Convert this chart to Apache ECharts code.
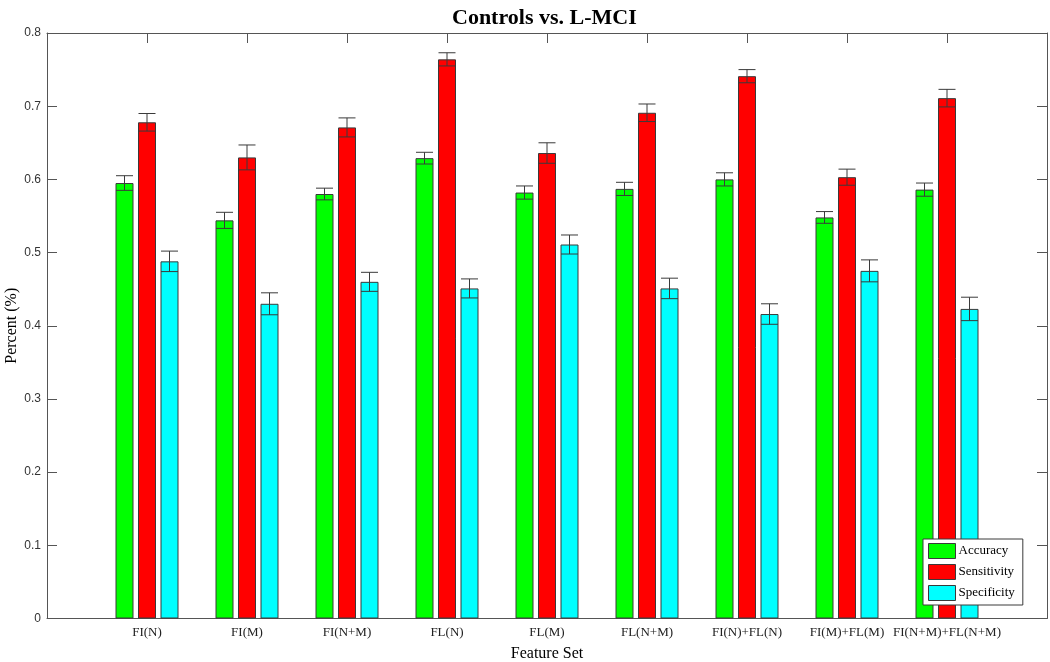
<!DOCTYPE html>
<html>
<head>
<meta charset="utf-8">
<script src="https://cdn.jsdelivr.net/npm/echarts@6/dist/echarts.min.js"></script>
<style>
  html, body { margin: 0; padding: 0; background: #fff; }
  #chart { width: 1050px; height: 662px; }
</style>
</head>
<body>
<div id="chart"></div>
<script>
const categories = ["FI(N)", "FI(M)", "FI(N+M)", "FL(N)", "FL(M)", "FL(N+M)", "FI(N)+FL(N)", "FI(M)+FL(M)", "FI(N+M)+FL(N+M)"];
const accuracy = [0.595, 0.544, 0.580, 0.629, 0.582, 0.587, 0.600, 0.548, 0.586];
const accuracyErr = [0.010, 0.011, 0.008, 0.008, 0.009, 0.009, 0.009, 0.008, 0.009];
const sensitivity = [0.678, 0.630, 0.671, 0.764, 0.636, 0.691, 0.741, 0.603, 0.711];
const sensitivityErr = [0.012, 0.017, 0.013, 0.009, 0.014, 0.012, 0.009, 0.011, 0.012];
const specificity = [0.488, 0.430, 0.460, 0.451, 0.511, 0.451, 0.416, 0.475, 0.423];
const specificityErr = [0.014, 0.015, 0.013, 0.013, 0.013, 0.014, 0.014, 0.015, 0.016];

const BAR_W = 18;
const BAR_GAP = 4.5;
const EDGE = "#3a3a3a";
const AXIS = "#555";
const SERIF = "'Liberation Serif', 'Times New Roman', serif";
const SANS = "'Liberation Sans', Arial, sans-serif";

// pad with empty slots so categories sit at 1..9 on a 0..10 axis, like matlab's bar()
const axisCats = ["", ...categories, ""];
const pad = arr => ["-", ...arr, "-"];

function barSeries(name, values, color) {
  return {
    name: name,
    type: "bar",
    data: pad(values),
    barWidth: BAR_W,
    barGap: (BAR_GAP / BAR_W * 100) + "%",
    itemStyle: { color: color, borderColor: EDGE, borderWidth: 1 },
    z: 2
  };
}

function errorSeries(values, errs, offset) {
  return {
    type: "custom",
    z: 5,
    encode: { x: 0, y: 1 },
    data: values.map((v, i) => [i + 1, v, errs[i]]),
    renderItem: (params, api) => {
      const x = api.coord([api.value(0), 0])[0] + offset;
      const hi = api.coord([api.value(0), api.value(1) + api.value(2)])[1];
      const lo = api.coord([api.value(0), api.value(1) - api.value(2)])[1];
      const hw = BAR_W / 2 - 0.5;
      const style = { stroke: EDGE, lineWidth: 1 };
      return {
        type: "group",
        children: [
          { type: "line", shape: { x1: x, y1: hi, x2: x, y2: lo }, style: style },
          { type: "line", shape: { x1: x - hw, y1: hi, x2: x + hw, y2: hi }, style: style },
          { type: "line", shape: { x1: x - hw, y1: lo, x2: x + hw, y2: lo }, style: style }
        ]
      };
    }
  };
}

const step = BAR_W + BAR_GAP;
const chart = echarts.init(document.getElementById("chart"));

chart.setOption({
  animation: false,
  backgroundColor: "#fff",
  title: {
    text: "Controls vs. L-MCI",
    left: 447,
    top: 2,
    textStyle: { fontFamily: SERIF, fontSize: 22, fontWeight: "bold", color: "#000" }
  },
  legend: {
    data: ["Accuracy", "Sensitivity", "Specificity"],
    orient: "vertical",
    left: 923,
    top: 539,
    padding: [4, 8, 4, 5],
    itemWidth: 27,
    itemHeight: 15,
    itemGap: 5,
    icon: "rect",
    backgroundColor: "#fff",
    borderColor: EDGE,
    borderWidth: 1,
    itemStyle: { borderColor: EDGE, borderWidth: 1 },
    textStyle: { fontFamily: SERIF, fontSize: 13, color: "#000", padding: [0, 0, 0, -2] },
    z: 10
  },
  grid: { left: 47, right: 3, top: 33, bottom: 43.5, containLabel: false, outerBoundsMode: "none" },
  xAxis: [
    {
      type: "category",
      data: axisCats,
      boundaryGap: false,
      name: "Feature Set",
      nameLocation: "middle",
      nameGap: 27,
      nameMoveOverlap: false,
      nameTextStyle: { fontFamily: SERIF, fontSize: 16, color: "#000" },
      axisLine: { onZero: false, lineStyle: { color: AXIS } },
      axisTick: { show: false },
      axisLabel: { interval: 0, margin: 8, fontFamily: SERIF, fontSize: 13, color: "#222" },
      splitLine: { show: false }
    },
    {
      type: "category",
      data: axisCats,
      boundaryGap: false,
      position: "top",
      axisLine: { onZero: false, lineStyle: { color: AXIS } },
      axisTick: { show: true, inside: true, length: 10, interval: 0, lineStyle: { color: AXIS } },
      axisLabel: { show: false, interval: 0 },
      splitLine: { show: false }
    }
  ],
  yAxis: [
    {
      type: "value",
      min: 0,
      max: 0.8,
      interval: 0.1,
      name: "Percent (%)",
      nameLocation: "middle",
      nameGap: 27,
      nameMoveOverlap: false,
      nameTextStyle: { fontFamily: SERIF, fontSize: 16, color: "#000" },
      axisLine: { show: true, onZero: false, lineStyle: { color: AXIS } },
      axisTick: { show: true, inside: true, length: 10, lineStyle: { color: AXIS } },
      axisLabel: { margin: 6, fontFamily: SANS, fontSize: 12, color: "#333" },
      splitLine: { show: false }
    },
    {
      type: "value",
      min: 0,
      max: 0.8,
      interval: 0.1,
      position: "right",
      axisLine: { show: true, onZero: false, lineStyle: { color: AXIS } },
      axisTick: { show: true, inside: true, length: 10, lineStyle: { color: AXIS } },
      axisLabel: { show: false },
      splitLine: { show: false }
    }
  ],
  series: [
    barSeries("Accuracy", accuracy, "#00ff00"),
    barSeries("Sensitivity", sensitivity, "#ff0000"),
    barSeries("Specificity", specificity, "#00ffff"),
    errorSeries(accuracy, accuracyErr, -step),
    errorSeries(sensitivity, sensitivityErr, 0),
    errorSeries(specificity, specificityErr, step)
  ]
});
</script>
</body>
</html>
